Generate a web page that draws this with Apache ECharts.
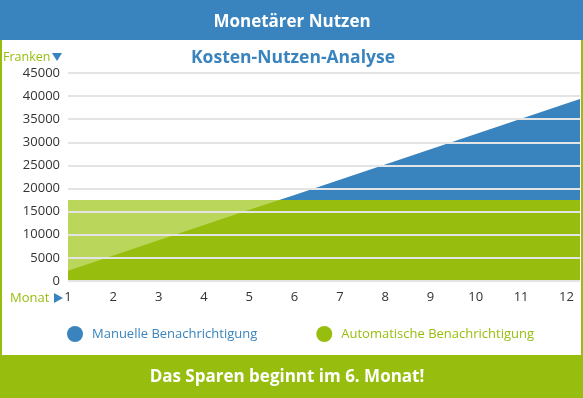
<!DOCTYPE html>
<html>
<head>
<meta charset="utf-8">
<script src="https://cdn.jsdelivr.net/npm/echarts@6/dist/echarts.min.js"></script>
<style>
  html, body { margin: 0; padding: 0; background: #fff; }
  #chart { width: 583px; height: 398px; }
</style>
</head>
<body>
<div id="chart"></div>
<script>
const monate = [1, 2, 3, 4, 5, 6, 7, 8, 9, 10, 11, 12, 12.3]
const manuell = [2200, 5500, 8800, 12100, 15400, 18600, 21900, 25200, 28500, 31800, 35100, 38400, 39400]
const automatisch = [17500, 17500, 17500, 17500, 17500, 17500, 17500, 17500, 17500, 17500, 17500, 17500, 17500]
const yTicks = [0, 5000, 10000, 15000, 20000, 25000, 30000, 35000, 40000, 45000]

const BLAU = '#3984be'
const GRUEN = '#97be0e'
const HELLGRUEN = '#bad75c'
const FONT = '"Open Sans", sans-serif'

const pairs = (xs, ys) => xs.map((x, i) => [x, ys[i]])

let myChart = echarts.init(document.getElementById('chart'))

let option = {
    animation: false,
    textStyle: { fontFamily: FONT },
    grid: {
        left: 68,
        right: 1,
        top: 73,
        bottom: 117
    },
    xAxis: {
        type: 'value',
        min: monate[0],
        max: monate[monate.length - 1],
        interval: 1,
        axisLine: { show: false },
        axisTick: { show: false },
        splitLine: { show: false },
        axisLabel: {
            color: '#333',
            fontSize: 13,
            margin: 10,
            formatter: v => Number.isInteger(v) ? String(v) : ''
        }
    },
    yAxis: {
        type: 'value',
        min: yTicks[0],
        max: yTicks[yTicks.length - 1],
        interval: yTicks[1] - yTicks[0],
        z: 5,
        axisLine: { show: false },
        axisTick: { show: false },
        splitLine: {
            show: true,
            lineStyle: { color: '#e4e4e4', width: 2 }
        },
        axisLabel: {
            color: '#333',
            fontSize: 13,
            margin: 8,
            formatter: v => String(v)
        }
    },
    // unterhalb der Automatik-Linie wird die manuelle Fläche dunkelgrün
    visualMap: {
        show: false,
        type: 'piecewise',
        seriesIndex: 1,
        dimension: 1,
        pieces: [
            { min: 0, max: automatisch[0], color: GRUEN },
            { min: automatisch[0], max: 45000, color: BLAU }
        ]
    },
    legend: {
        left: 62,
        top: 321,
        icon: 'circle',
        itemWidth: 24,
        itemHeight: 16,
        itemGap: 59,
        textStyle: { fontSize: 13, fontFamily: FONT },
        data: [
            { name: 'Manuelle Benachrichtigung', itemStyle: { color: BLAU }, textStyle: { color: BLAU } },
            { name: 'Automatische Benachrichtigung', itemStyle: { color: GRUEN }, textStyle: { color: GRUEN } }
        ]
    },
    series: [
        {
            name: 'Automatische Benachrichtigung',
            type: 'line',
            data: pairs(monate, automatisch),
            showSymbol: false,
            color: GRUEN,
            lineStyle: { width: 0 },
            areaStyle: { color: HELLGRUEN, opacity: 1 },
            z: 1
        },
        {
            name: 'Manuelle Benachrichtigung',
            type: 'line',
            data: pairs(monate, manuell),
            showSymbol: false,
            color: BLAU,
            lineStyle: { width: 0 },
            areaStyle: { opacity: 1 },
            z: 2
        }
    ],
    graphic: [
        { type: 'rect', left: 0, top: 0, shape: { width: 583, height: 40 }, style: { fill: BLAU } },
        { type: 'rect', left: 0, top: 355, shape: { width: 583, height: 43 }, style: { fill: GRUEN } },
        { type: 'rect', left: 0, top: 40, shape: { width: 2, height: 315 }, style: { fill: GRUEN } },
        { type: 'rect', left: 581, top: 40, shape: { width: 2, height: 315 }, style: { fill: GRUEN } },
        {
            type: 'text', x: 292, y: 22,
            style: { text: 'Monetärer Nutzen', fill: '#fff', font: 'bold 17px ' + FONT, textAlign: 'center', textVerticalAlign: 'middle' }
        },
        {
            type: 'text', x: 293, y: 58,
            style: { text: 'Kosten-Nutzen-Analyse', fill: BLAU, font: 'bold 17.5px ' + FONT, textAlign: 'center', textVerticalAlign: 'middle' }
        },
        {
            type: 'text', x: 287, y: 377,
            style: { text: 'Das Sparen beginnt im 6. Monat!', fill: '#fff', font: 'bold 17px ' + FONT, textAlign: 'center', textVerticalAlign: 'middle' }
        },
        {
            type: 'text', x: 3, y: 57,
            style: { text: 'Franken', fill: GRUEN, font: '12.5px ' + FONT, textVerticalAlign: 'middle' }
        },
        { type: 'polygon', shape: { points: [[52, 53], [62, 53], [57, 61]] }, style: { fill: BLAU } },
        {
            type: 'text', x: 10, y: 298,
            style: { text: 'Monat', fill: GRUEN, font: '13px ' + FONT, textVerticalAlign: 'middle' }
        },
        { type: 'polygon', shape: { points: [[54, 293], [54, 303], [63, 298]] }, style: { fill: BLAU } }
    ]
}

myChart.setOption(option)
</script>
</body>
</html>
